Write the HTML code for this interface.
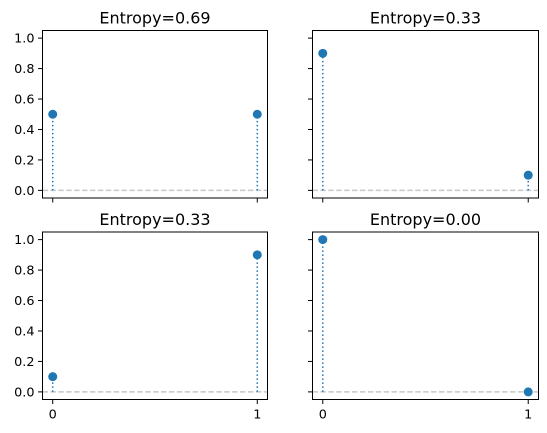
<!DOCTYPE html>
<html><head><meta charset="utf-8"><style>
html,body{margin:0;padding:0;background:#fff;}
svg{display:block;font-family:"DejaVu Sans","Liberation Sans",sans-serif;}
</style></head><body>
<svg id="chart" width="547" height="433" viewBox="0 0 547 433" xmlns="http://www.w3.org/2000/svg"></svg>
<script>
const titles = ["Entropy=0.69","Entropy=0.33","Entropy=0.33","Entropy=0.00"];
const categories = [0, 1];
const probsA = [0.5, 0.5];
const probsB = [0.9, 0.1];
const probsC = [0.1, 0.9];
const probsD = [1.0, 0.0];
const yTicks = [0.0, 0.2, 0.4, 0.6, 0.8, 1.0];
const xTicks = [0, 1];

const series = [probsA, probsB, probsC, probsD];
const panels = [
  {l:42.5, r:267.5, t:30.5, b:198, yl:true, xl:false},
  {l:312.5, r:538.5, t:30.5, b:198, yl:false, xl:false},
  {l:42.5, r:267.5, t:232, b:399.5, yl:true, xl:true},
  {l:312.5, r:538.5, t:232, b:399.5, yl:false, xl:true}
];
const svg = document.getElementById('chart');
const NS = "http://www.w3.org/2000/svg";
function mk(tag, attrs, parent){
  const e = document.createElementNS(NS, tag);
  for (const k in attrs) e.setAttribute(k, attrs[k]);
  (parent||svg).appendChild(e);
  return e;
}
panels.forEach((p, i) => {
  const g = mk('g', {});
  
  
  const sx = v => p.l + (v + 0.05) / 1.1 * (p.r - p.l);
  const sy = v => p.b - (v + 0.05) / 1.1 * (p.b - p.t);
  const t = mk('text', {x:(p.l+p.r)/2, y:p.t-7, 'text-anchor':'middle', 'font-size':'16', fill:'#000'}, g);
  t.textContent = titles[i];
  
  
  const bl = mk('line', {x1:p.l, x2:p.r, y1:sy(0), y2:sy(0), stroke:'#c8c8c8', 'stroke-width':1.5, 'stroke-dasharray':'5.5,2.4'}, g);
  
  
  categories.forEach((c, j) => {
    const v = series[i][j];
    const st = mk('line', {x1:sx(c), x2:sx(c), y1:sy(0), y2:sy(v), stroke:'#1f77b4', 'stroke-width':1.5, 'stroke-dasharray':'1.5,2.5'}, g);
    
    
    const m = mk('circle', {cx:sx(c), cy:sy(v), r:4.5, fill:'#1f77b4'}, g);
    
    
  });
  const fr = mk('rect', {x:p.l, y:p.t, width:p.r-p.l, height:p.b-p.t, fill:'none', stroke:'#000', 'stroke-width':1}, g);
  
  
  yTicks.forEach(v => {
    const tk = mk('line', {x1:p.l-4.5, x2:p.l, y1:sy(v), y2:sy(v), stroke:'#000', 'stroke-width':1}, g);
    
    
    if (p.yl) {
      const tl = mk('text', {x:p.l-8, y:sy(v)+4.5, 'text-anchor':'end', 'font-size':'12.8', fill:'#000'}, g);
      tl.textContent = v.toFixed(1);
      
      
    }
  });
  xTicks.forEach(v => {
    const tk = mk('line', {x1:sx(v), x2:sx(v), y1:p.b, y2:p.b+4.5, stroke:'#000', 'stroke-width':1}, g);
    
    
    if (p.xl) {
      const tl = mk('text', {x:sx(v), y:p.b+19, 'text-anchor':'middle', 'font-size':'12.8', fill:'#000'}, g);
      tl.textContent = String(v);
      
      
    }
  });
});
</script>
</body></html>
